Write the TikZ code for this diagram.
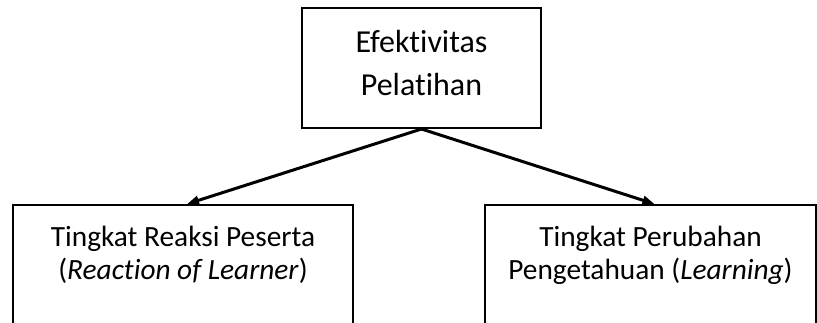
\documentclass[tikz,border=0pt]{standalone}
\usepackage{fontspec}
\setmainfont{Carlito}[Ligatures={NoCommon,NoContextual}]
\usetikzlibrary{arrows.meta}
\tikzset{
  kotak/.style={draw,line width=1.5pt,inner sep=0pt,align=flush center,anchor=north},
  panah/.style={->,line width=2.25pt},
}
\begin{document}
\begin{tikzpicture}[>={Triangle[length=9pt,width=6.5pt]},x=0.75pt,y=0.75pt,
  font=\fontsize{22pt}{24.75pt}\selectfont]
\useasboundingbox (0,0) rectangle (817,322);
\clip (0,0) rectangle (817,322);
% kotak atas
\node[kotak,text width=179.25pt,text height=33.75pt,text depth=56.25pt,
  font=\fontsize{24pt}{32.25pt}\selectfont] (efektif) at (421.5,315)
  {Efektivitas\\Pelatihan};
% kotak bawah
\node[kotak,text width=255pt,text height=30.75pt,text depth=90pt] (reaksi) at (183,118)
  {Tingkat Reaksi Peserta\\(\textit{Reaction of Learner})};
\node[kotak,text width=248.25pt,text height=30.75pt,text depth=90pt] (ubah) at (650.5,118)
  {Tingkat Perubahan\\Pengetahuan (\textit{Learning})};
\draw[panah] (efektif.south) -- ([xshift=3pt]reaksi.north);
\draw[panah] (efektif.south) -- ([xshift=3pt]ubah.north);
\end{tikzpicture}
\end{document}
